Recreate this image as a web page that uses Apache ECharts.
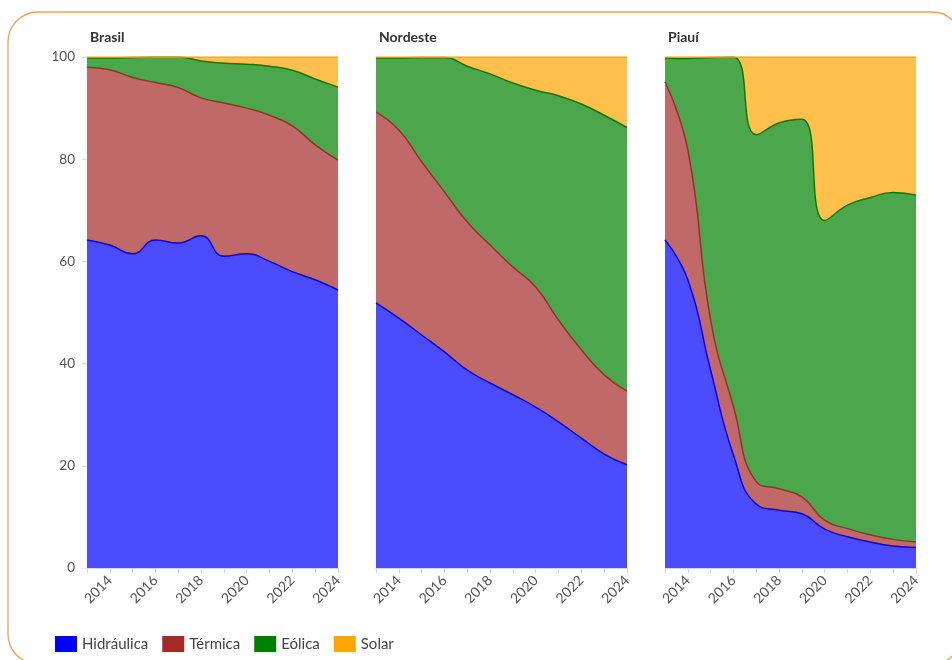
<!DOCTYPE html>
<html>
<head>
<meta charset="utf-8">
<script src="https://cdn.jsdelivr.net/npm/echarts@6/dist/echarts.min.js"></script>
<style>
  html, body { margin: 0; padding: 0; background: #fff; }
  #chart { width: 952px; height: 660px; }
</style>
</head>
<body>
<div id="chart"></div>
<script>
const years = ['2013', '2014', '2015', '2016', '2017', '2018', '2019', '2020', '2021', '2022', '2023', '2024']
const sources = ['Hidráulica', 'Térmica', 'Eólica', 'Solar']
const panelTitles = ['Brasil', 'Nordeste', 'Piauí']

// shares in % per year
const brasilHidraulica = [64.2, 63.2, 61.5, 64.2, 63.6, 65.0, 61.0, 61.5, 60.0, 58.0, 56.4, 54.4]
const brasilTermica = [33.8, 34.3, 34.5, 30.8, 30.4, 27.0, 30.0, 28.5, 28.6, 28.5, 26.4, 25.4]
const brasilEolica = [1.8, 2.3, 3.9, 5.0, 6.0, 7.2, 7.8, 8.6, 9.6, 10.9, 12.9, 14.3]
const brasilSolar = [0.2, 0.2, 0.1, 0.0, 0.0, 0.8, 1.2, 1.4, 1.8, 2.6, 4.3, 5.9]

const nordesteHidraulica = [51.9, 48.9, 45.6, 42.3, 38.7, 36.2, 33.9, 31.5, 28.6, 25.4, 22.3, 20.2]
const nordesteTermica = [37.3, 36.8, 33.9, 31.3, 29.0, 27.0, 25.0, 23.5, 19.9, 17.3, 15.5, 14.4]
const nordesteEolica = [10.6, 14.1, 20.4, 26.3, 30.5, 33.5, 36.0, 38.5, 43.9, 48.1, 50.8, 51.6]
const nordesteSolar = [0.2, 0.2, 0.1, 0.1, 1.8, 3.3, 5.1, 6.5, 7.6, 9.2, 11.4, 13.8]

const piauiHidraulica = [64.2, 56.4, 38.7, 22.1, 12.5, 11.3, 10.6, 7.6, 6.1, 5.1, 4.3, 4.0]
const piauiTermica = [30.9, 25.4, 9.8, 9.5, 4.4, 4.2, 3.3, 1.7, 1.6, 1.4, 1.3, 1.1]
const piauiEolica = [4.7, 17.9, 51.4, 68.4, 67.9, 71.6, 73.9, 58.7, 63.3, 66.0, 67.9, 67.9]
const piauiSolar = [0.2, 0.3, 0.1, 0.0, 15.2, 12.9, 12.2, 32.0, 29.0, 27.5, 26.5, 27.0]

const yTicks = [0, 20, 40, 60, 80, 100]

const colors = ['#0000ff', '#a52a2a', '#008000', '#ffa500']
const panels = [
  [brasilHidraulica, brasilTermica, brasilEolica, brasilSolar],
  [nordesteHidraulica, nordesteTermica, nordesteEolica, nordesteSolar],
  [piauiHidraulica, piauiTermica, piauiEolica, piauiSolar]
]
const gridLefts = [87, 376, 665]
const fontFamily = 'Lato, "Noto Sans", sans-serif'

const chart = echarts.init(document.getElementById('chart'))

const grids = gridLefts.map(left => ({ left: left, top: 57, width: 251, height: 511 }))

const xAxes = gridLefts.map((_, i) => ({
  type: 'category',
  gridIndex: i,
  data: years,
  boundaryGap: false,
  axisLine: { show: true, lineStyle: { color: '#d8d8d8' } },
  axisTick: { show: true, interval: 0, length: 5, lineStyle: { color: '#d8d8d8' } },
  axisLabel: {
    interval: (idx) => idx % 2 === 1,
    rotate: 45,
    color: '#555',
    fontSize: 14,
    fontFamily: fontFamily,
    margin: 10
  }
}))

const yAxes = gridLefts.map((_, i) => ({
  type: 'value',
  gridIndex: i,
  min: yTicks[0],
  max: yTicks[yTicks.length - 1],
  interval: 20,
  show: i === 0,
  axisLine: { show: false },
  axisTick: { show: true, length: 5, lineStyle: { color: '#e2e2e2' } },
  splitLine: { show: false },
  axisLabel: {
    color: '#555',
    fontSize: 13.5,
    fontFamily: fontFamily,
    margin: 12
  }
}))

const series = []
panels.forEach((panel, p) => {
  panel.forEach((values, s) => {
    series.push({
      name: sources[s],
      type: 'line',
      xAxisIndex: p,
      yAxisIndex: p,
      stack: 'panel' + p,
      smooth: true,
      showSymbol: false,
      symbol: 'none',
      data: values,
      color: colors[s],
      lineStyle: { width: 1.5, color: colors[s] },
      areaStyle: { color: colors[s], opacity: 0.7 },
      emphasis: { disabled: true }
    })
  })
})

const option = {
  backgroundColor: '#fff',
  animation: false,
  title: panelTitles.map((t, i) => ({
    text: t,
    left: gridLefts[i] - 2,
    top: 25,
    textStyle: { fontSize: 14, fontWeight: 'bold', color: '#333', fontFamily: fontFamily }
  })),
  legend: {
    data: sources,
    left: 50,
    top: 631,
    icon: 'rect',
    itemWidth: 22,
    itemHeight: 16,
    itemGap: 14,
    textStyle: { fontSize: 15, color: '#444', fontFamily: fontFamily }
  },
  graphic: [{
    type: 'rect',
    shape: { x: 8, y: 12, width: 954, height: 652, r: 30 },
    style: { fill: 'none', stroke: '#f5a04e', lineWidth: 1.3 },
    silent: true,
    z: -1
  }],
  grid: grids,
  xAxis: xAxes,
  yAxis: yAxes,
  series: series
}

chart.setOption(option)
</script>
</body>
</html>
